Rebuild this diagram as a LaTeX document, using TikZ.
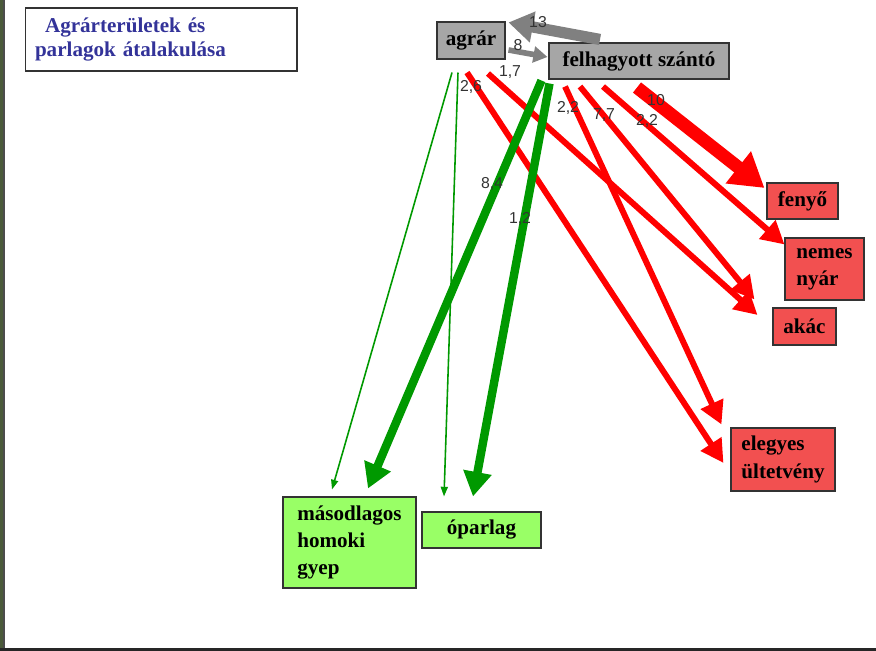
\documentclass[tikz,border=0pt]{standalone}
\usepackage{fontspec}
\setmainfont{Liberation Serif}
\newfontfamily\numfont{Liberation Sans}
\usetikzlibrary{arrows.meta,calc}
\definecolor{boxgray}{HTML}{A6A6A6}
\definecolor{arrgray}{HTML}{808080}
\definecolor{boxred}{HTML}{F25050}
\definecolor{boxgreen}{HTML}{99FF66}
\definecolor{arrgreen}{HTML}{009900}
\definecolor{titleblue}{HTML}{333399}
\definecolor{edgeolive}{HTML}{4A5A3A}

\begin{document}
\begin{tikzpicture}[x=0.02cm,y=-0.02cm,
  box/.style={draw=black!80, line width=0.6pt, inner sep=0pt, font=\bfseries\fontsize{12}{15.5}\selectfont, align=left},
  graybox/.style={box, fill=boxgray},
  redbox/.style={box, fill=boxred},
  greenbox/.style={box, fill=boxgreen},
  num/.style={font=\numfont\fontsize{9}{10}\selectfont, text=black!80, inner sep=0pt},
  redarr/.style={draw=red, line width=3.4pt, -{Triangle[length=13pt,width=13.5pt]}},
  bigredarr/.style={draw=red, line width=7.4pt, -{Triangle[length=19pt,width=22pt]}},
  greenarr/.style={draw=arrgreen, line width=4.8pt, -{Triangle[length=14pt,width=15.5pt]}},
  thinarr/.style={draw=arrgreen, line width=0.9pt, -{Triangle[length=5.5pt,width=4pt]}},
  grayarr/.style={draw=arrgray}]

\useasboundingbox (0,0) rectangle (876,651);
\fill[white] (0,0) rectangle (876,651);
\fill[edgeolive] (0,0) rectangle (3,651);
\draw[black!70, line width=0.6pt] (4,0) -- (4,648);
\fill[black!85] (0,648) rectangle (876,651);

\node[draw=black!80, line width=0.6pt, minimum width=5.44cm, minimum height=1.26cm,
  text width=5.04cm, align=left, text=titleblue, font=\bfseries\fontsize{12}{14.2}\selectfont]
  (title) at (161,39.5) {\hspace*{5.7pt}Agrárterületek és\\parlagok átalakulása};

\node[graybox, minimum width=1.36cm, minimum height=0.74cm] (agrar) at (471,40.5) {agrár};
\node[graybox, minimum width=3.6cm, minimum height=0.72cm] (felh) at (639,61) {felhagyott szántó};

\node[redbox, minimum width=1.42cm, minimum height=0.72cm] (fenyo) at (802.5,201) {fenyő};
\node[redbox, minimum width=1.58cm, minimum height=1.24cm] (nemes) at (824.5,269) {nemes\\nyár};
\node[redbox, minimum width=1.26cm, minimum height=0.74cm] (akac) at (804.5,326.5) {akác};
\node[redbox, minimum width=2.08cm, minimum height=1.26cm] (elegyes) at (783,459.5) {elegyes\\ültetvény};

\node[greenbox, minimum width=2.66cm, minimum height=1.82cm] (masod) at (349.5,542.5) {másodlagos\\homoki\\gyep};
\node[greenbox, minimum width=2.38cm, minimum height=0.72cm] (oparlag) at (481.5,530) {óparlag};

\draw[grayarr, line width=6.4pt, -{Triangle[length=14pt,width=17pt]}] ($(felh.north)+(-39,-3)$) -- ($(agrar.north east)+(3,1)$);
\draw[grayarr, line width=3.2pt, -{Triangle[length=8pt,width=9pt]}] ($(agrar.east)+(3,9.5)$) -- ($(felh.west)+(-1,-4)$);

\draw[thinarr] ($(agrar.south)+(-19,13)$) -- ($(masod.north)+(-17.5,-7)$);
\draw[thinarr] ($(agrar.south)+(-13,13)$) -- ($(oparlag.north)+(-37.5,-15)$);

\draw[redarr] ($(agrar.south)+(-4,13)$) -- ($(elegyes.west)+(-7,3.5)$);
\draw[redarr] ($(agrar.south)+(17,14)$) -- ($(akac.west)+(-15,-11.5)$);
\draw[redarr] ($(felh.south)+(-74,7)$) -- ($(elegyes.north west)+(-9,-3)$);
\draw[redarr] ($(felh.south)+(-59,7)$) -- ($(akac.north west)+(-18,-8)$);
\draw[redarr] ($(felh.south)+(-36,7)$) -- ($(nemes.north west)+(0,7)$);
\draw[bigredarr] ($(felh.south)+(-2,8)$) -- ($(fenyo.west)+(-2,-13)$);

\draw[greenarr] ($(felh.south west)+(-7,1)$) -- ($(masod.north)+(18.5,-8)$);
\draw[greenarr] ($(felh.south west)+(1,4)$) -- ($(oparlag.north)+(-8.5,-15)$);

\node[num] (l13) at (538,22) {13};
\node[num] (l8) at (518,45) {8};
\node[num] (l26) at (471,87) {2,6};
\node[num] (l17) at (510,72) {1,7};
\node[num] (l84) at (492,184) {8,4};
\node[num] (l12) at (520,219) {1,2};
\node[num] (l22a) at (568,108) {2,2};
\node[num] (l77) at (604,115) {7,7};
\node[num] (l22b) at (647,121) {2,2};
\node[num] (l10) at (656,100) {10};

\end{tikzpicture}
\end{document}
